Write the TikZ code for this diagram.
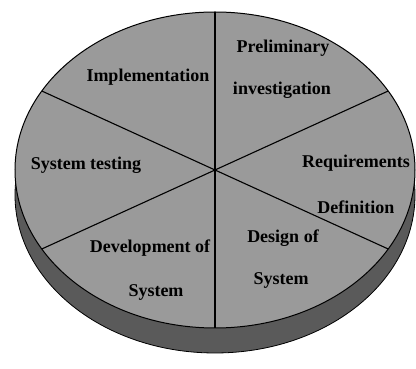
\documentclass[tikz,border=0pt]{standalone}
\usepackage{fontspec}
\setmainfont{Liberation Serif}
\usetikzlibrary{calc}
\definecolor{topface}{HTML}{9A9A9A}
\definecolor{sideband}{HTML}{5A5A5A}
\tikzset{
  lbl/.style={font=\fontsize{18}{20}\selectfont\bfseries, text=black, inner sep=0pt},
  spoke/.style={draw=black, line width=1.1pt},
}
\begin{document}
\begin{tikzpicture}[x=1pt,y=1pt]
\useasboundingbox[fill=white] (0,0) rectangle (416,369);
\coordinate (c) at (215,199);
\coordinate (cb) at (215,174);
% side band
\fill[sideband] (cb) ellipse [x radius=200, y radius=158];
\draw[black, line width=0.8pt] (cb) ellipse [x radius=200, y radius=158];
% top face
\fill[topface] (c) ellipse [x radius=200, y radius=158];
\draw[black, line width=1pt] (c) ellipse [x radius=200, y radius=158];
% spokes
\foreach \a/\n in {90/p1,30/p2,-30/p3,-90/p4,210/p5,150/p6}{
  \coordinate (\n) at ($(c)+(\a:200 and 158)$);
}
\foreach \n in {p1,p2,p3,p4,p5,p6}{
  \draw[spoke] (c) -- (\n);
}
% labels
\node[lbl] (prel) at (283,321) {Preliminary};
\node[lbl] (inv) at (282,279) {investigation};
\node[lbl] (impl) at (148,292) {Implementation};
\node[lbl] (test) at (86,204) {System testing};
\node[lbl] (req) at (356,206) {Requirements};
\node[lbl] (def) at (356,162) {Definition};
\node[lbl] (des) at (283,131) {Design of};
\node[lbl] (dsys) at (281,89) {System};
\node[lbl] (dev) at (150,121) {Development of};
\node[lbl] (vsys) at (156,77) {System};
\end{tikzpicture}
\end{document}
